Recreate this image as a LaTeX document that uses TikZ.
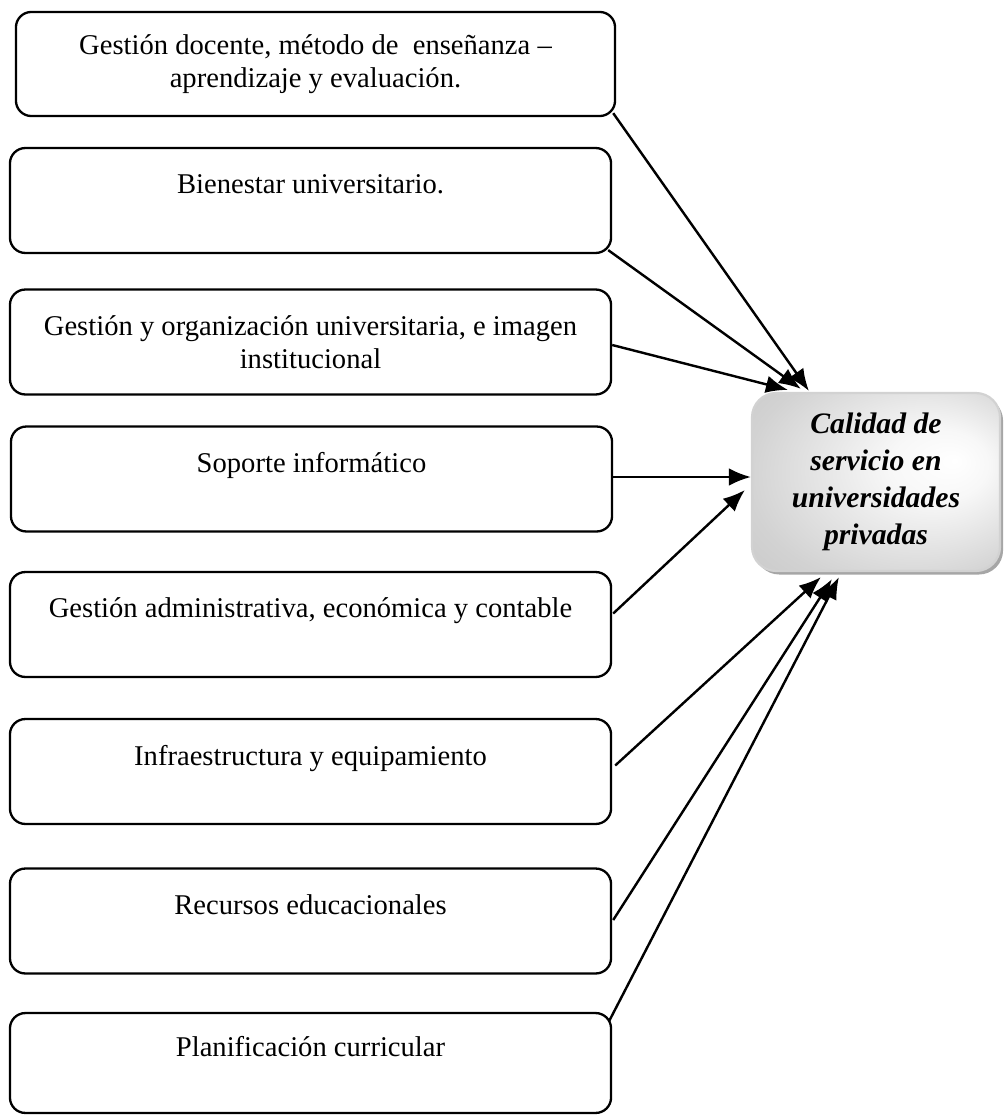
\documentclass[tikz,border=0pt]{standalone}
\usepackage{fontspec}
\setmainfont{Liberation Serif}
\usetikzlibrary{arrows.meta,calc,shadows}

% soft grey shading with a light spot right of centre
\pgfdeclareradialshading{calidad}{\pgfpoint{16bp}{6bp}}{%
  color(0bp)=(white);
  color(10bp)=(white!94!gray);
  color(32bp)=(gray!35);
  color(50bp)=(gray!50)}

\tikzset{
  factor/.style={draw=black, line width=1.05pt, rounded corners=7pt,
    minimum width=273.2pt, minimum height=47.7pt, align=center,
    font=\fontsize{13}{15}\selectfont, inner sep=0pt},
  resultado/.style={draw=gray!35, line width=1pt, rounded corners=11pt,
    shading=calidad,
    drop shadow={shadow xshift=1.4pt, shadow yshift=-1.6pt, fill=gray!70, opacity=1},
    minimum width=112.7pt, minimum height=80.9pt, align=center,
    font=\fontsize{13.5}{16.8}\selectfont\bfseries\itshape, inner sep=0pt},
  flecha/.style={line width=1.1pt, -{Latex[length=10pt,width=8pt]}}
}

\begin{document}
\begin{tikzpicture}[x=0.4545pt, y=-0.4545pt]
  \useasboundingbox (0,0) rectangle (1004,1115);

  % factor boxes
  \node[factor, minimum width=272.3pt, minimum height=47.3pt] (b1) at (315.5,64)
    {Gestión docente, método de\ \ enseñanza --\\aprendizaje y evaluación.};
  \node[factor] (b2) at (310.5,200.5) {Bienestar universitario.\\\mbox{}};
  \node[factor] (b3) at (310.5,342)
    {Gestión y organización universitaria, e imagen\\institucional};
  \node[factor] (b4) at (311.5,479) {Soporte informático\\\mbox{}};
  \node[factor] (b5) at (310.5,624.5)
    {Gestión administrativa, económica y contable\\\mbox{}};
  \node[factor] (b6) at (310.5,771.5) {Infraestructura y equipamiento\\\mbox{}};
  \node[factor] (b7) at (310.5,921) {Recursos educacionales\\\mbox{}};
  \node[factor, minimum height=45.4pt] (b8) at (310.5,1063)
    {Planificación curricular\\\mbox{}};

  % central concept
  \node[resultado] (cal) at (876,482)
    {Calidad de\\servicio en\\universidades\\privadas};

  % start point of the horizontal connector
  \coordinate (s4) at ($(b4.east)+(0,-2)$);

  % connectors into the central box
  \draw[flecha] ($(b1.south east)+(-3,-4)$) -- ($(cal.north west)+(58,-1)$);
  \draw[flecha] ($(b2.south east)+(-4,-4)$) -- ($(cal.north west)+(50,-3)$);
  \draw[flecha] ($(b3.east)+(0,3)$) -- ($(cal.north west)+(37,-2)$);
  \draw[flecha] (s4) -- (s4 -| cal.west);
  \draw[flecha] ($(b5.east)+(1,-11)$) -- ($(cal.west)+(-6,8)$);
  \draw[flecha] ($(b6.east)+(3,-6)$) -- ($(cal.south west)+(70,5)$);
  \draw[flecha] ($(b7.east)+(1,-1)$) -- ($(cal.south west)+(81,7)$);
  \draw[flecha] ($(b8.north east)+(-3,9)$) -- ($(cal.south west)+(88,5)$);
\end{tikzpicture}
\end{document}
